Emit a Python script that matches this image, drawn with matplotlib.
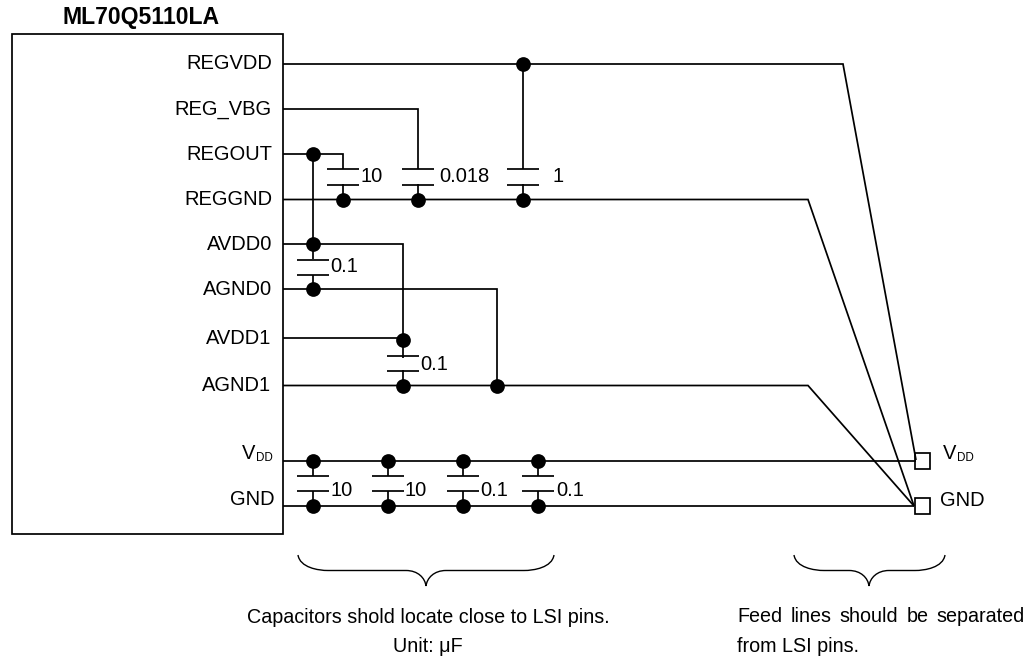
"""
Reference circuit around the ML70Q5110LA power pins.
All positions are in image pixels, y growing downwards.
"""

import matplotlib
matplotlib.use("Agg")
import matplotlib.pyplot as plt
from matplotlib.patches import PathPatch, Rectangle
from matplotlib.path import Path

plt.rcParams['font.family'] = ['Liberation Sans', 'DejaVu Sans']

LW = 1.25
FS = 14.5
NOTE_FS = 14.2

# chip box (left, top, right, bottom)
chip_box = (12, 34, 283, 534)

pin_names = ['REGVDD', 'REG_VBG', 'REGOUT', 'REGGND', 'AVDD0', 'AGND0', 'AVDD1', 'AGND1', 'GND']
pin_text_x = [272, 272, 272, 272, 272, 272, 271, 271, 275]
pin_text_y = [69, 115, 160, 205, 250, 295, 344, 391, 505]

# wires as polylines
wires = [
    [(283, 64), (843, 64), (916, 460)],
    [(283, 109), (418, 109), (418, 169)],
    [(283, 154), (343, 154), (343, 169)],
    [(283, 199.5), (808, 199.5), (914, 506)],
    [(283, 244), (403, 244), (403, 358)],
    [(283, 289), (497, 289), (497, 385.5)],
    [(283, 338), (403, 338)],
    [(283, 385.5), (808, 385.5), (914, 506)],
    [(283, 460.5), (916, 460.5)],
    [(283, 506), (914, 506)],
    [(523, 64), (523, 169)],
    [(313, 154), (313, 259)],
    [(313, 275), (313, 289)],
    [(343, 184), (343, 199)],
    [(418, 184), (418, 199)],
    [(523, 184), (523, 199)],
    [(403, 370), (403, 385)],
    [(313, 460), (313, 476)], [(313, 491), (313, 506)],
    [(388, 460), (388, 476)], [(388, 491), (388, 506)],
    [(463, 460), (463, 476)], [(463, 491), (463, 506)],
    [(538, 460), (538, 476)], [(538, 491), (538, 506)],
]

node_x = [523, 313, 343, 418, 523, 313, 313, 403, 403, 497,
          313, 388, 463, 538, 313, 388, 463, 538]
node_y = [64, 154, 199.5, 199.5, 199.5, 244, 289, 340, 385.5, 385.5,
          460.5, 460.5, 460.5, 460.5, 506, 506, 506, 506]

# capacitors: centre x, top plate y, bottom plate y, label, label x
cap_x = [343, 418, 523, 313, 403, 313, 388, 463, 538]
cap_top = [169, 169, 169, 260, 355.5, 476, 476, 476, 476]
cap_bottom = [184.5, 184.5, 184.5, 275, 370.5, 491, 491, 491, 491]
cap_labels = ['10', '0.018', '1', '0.1', '0.1', '10', '10', '0.1', '0.1']
cap_label_x = [361, 439, 552, 330, 420, 330, 405, 480, 556]
cap_label_y = [176.5, 176.5, 176.5, 266.5, 364, 491, 491, 491, 491]

pad_y = [453, 498]

fig = plt.figure(figsize=(10.35, 6.6), dpi=100)
ax = fig.add_axes([0, 0, 1, 1])
ax.set_xlim(0, 1035)
ax.set_ylim(660, 0)
ax.axis('off')

left, top, right, bottom = chip_box
ax.add_patch(Rectangle((left, top), right - left, bottom - top,
                       fill=False, ec='black', lw=LW))

for y in pad_y:
    ax.add_patch(Rectangle((914.5, y), 15.5, 15.5, fc='white', ec='black', lw=LW, zorder=1))

for wire in wires:
    xs, ys = zip(*wire)
    ax.plot(xs, ys, color='black', lw=LW, solid_capstyle='butt', solid_joinstyle='miter')

ax.plot(node_x, node_y, 'o', color='black', ms=10.6, mew=0, zorder=4)

for x, y_top, y_bot, label, lx, ly in zip(cap_x, cap_top, cap_bottom, cap_labels,
                                          cap_label_x, cap_label_y):
    ax.plot([x - 15.7, x + 15.7], [y_top, y_top], color='black', lw=LW, solid_capstyle='butt')
    ax.plot([x - 15.7, x + 15.7], [y_bot, y_bot], color='black', lw=LW, solid_capstyle='butt')
    ax.text(x=lx, y=ly, s=label, fontsize=FS, ha='left', va='center')

for name, x, y in zip(pin_names, pin_text_x, pin_text_y):
    ax.text(x, y, name, fontsize=FS, ha='right', va='baseline')

ax.text(62, 24, 'ML70Q5110LA', fontsize=16.6, fontweight='bold', ha='left', va='baseline')

# V_DD labels, subscript drawn as smaller text
ax.text(242, 459, 'V', fontsize=FS, ha='left', va='baseline')
ax.text(256, 461, 'DD', fontsize=8.4, ha='left', va='baseline')
ax.text(943, 459, 'V', fontsize=FS, ha='left', va='baseline')
ax.text(957, 461, 'DD', fontsize=8.4, ha='left', va='baseline')
ax.text(940, 506.5, 'GND', fontsize=FS, ha='left', va='baseline')


def draw_brace(x0, x1, xm, y0=555, yf=570.5, ytip=586):
    verts = [(x0, y0), (x0 + 2, yf - 3), (x0 + 20, yf), (x0 + 30, yf),
             (xm - 20, yf),
             (xm - 8, yf), (xm - 1, ytip - 8), (xm, ytip),
             (xm + 1, ytip - 8), (xm + 8, yf), (xm + 20, yf),
             (x1 - 30, yf),
             (x1 - 20, yf), (x1 - 2, yf - 3), (x1, y0)]
    codes = [Path.MOVETO, Path.CURVE4, Path.CURVE4, Path.CURVE4,
             Path.LINETO,
             Path.CURVE4, Path.CURVE4, Path.CURVE4,
             Path.CURVE4, Path.CURVE4, Path.CURVE4,
             Path.LINETO,
             Path.CURVE4, Path.CURVE4, Path.CURVE4]
    ax.add_patch(PathPatch(Path(verts, codes), fill=False, ec='black', lw=1.0))


draw_brace(298, 554, 426)
draw_brace(794, 945, 869)

ax.text(428.5, 623, 'Capacitors shold locate close to LSI pins.', fontsize=NOTE_FS,
        ha='center', va='baseline')
ax.text(428, 652, 'Unit: \u03bcF', fontsize=NOTE_FS, ha='center', va='baseline')

feed_words = ['Feed', 'lines', 'should', 'be', 'separated']
feed_x = [737, 791, 839, 907, 936]
for word, x in zip(feed_words, feed_x):
    ax.text(x, 622, word, fontsize=NOTE_FS, ha='left', va='baseline')
ax.text(737, 651.5, 'from LSI pins.', fontsize=NOTE_FS, ha='left', va='baseline')

fig.savefig('out.png', dpi=100)
